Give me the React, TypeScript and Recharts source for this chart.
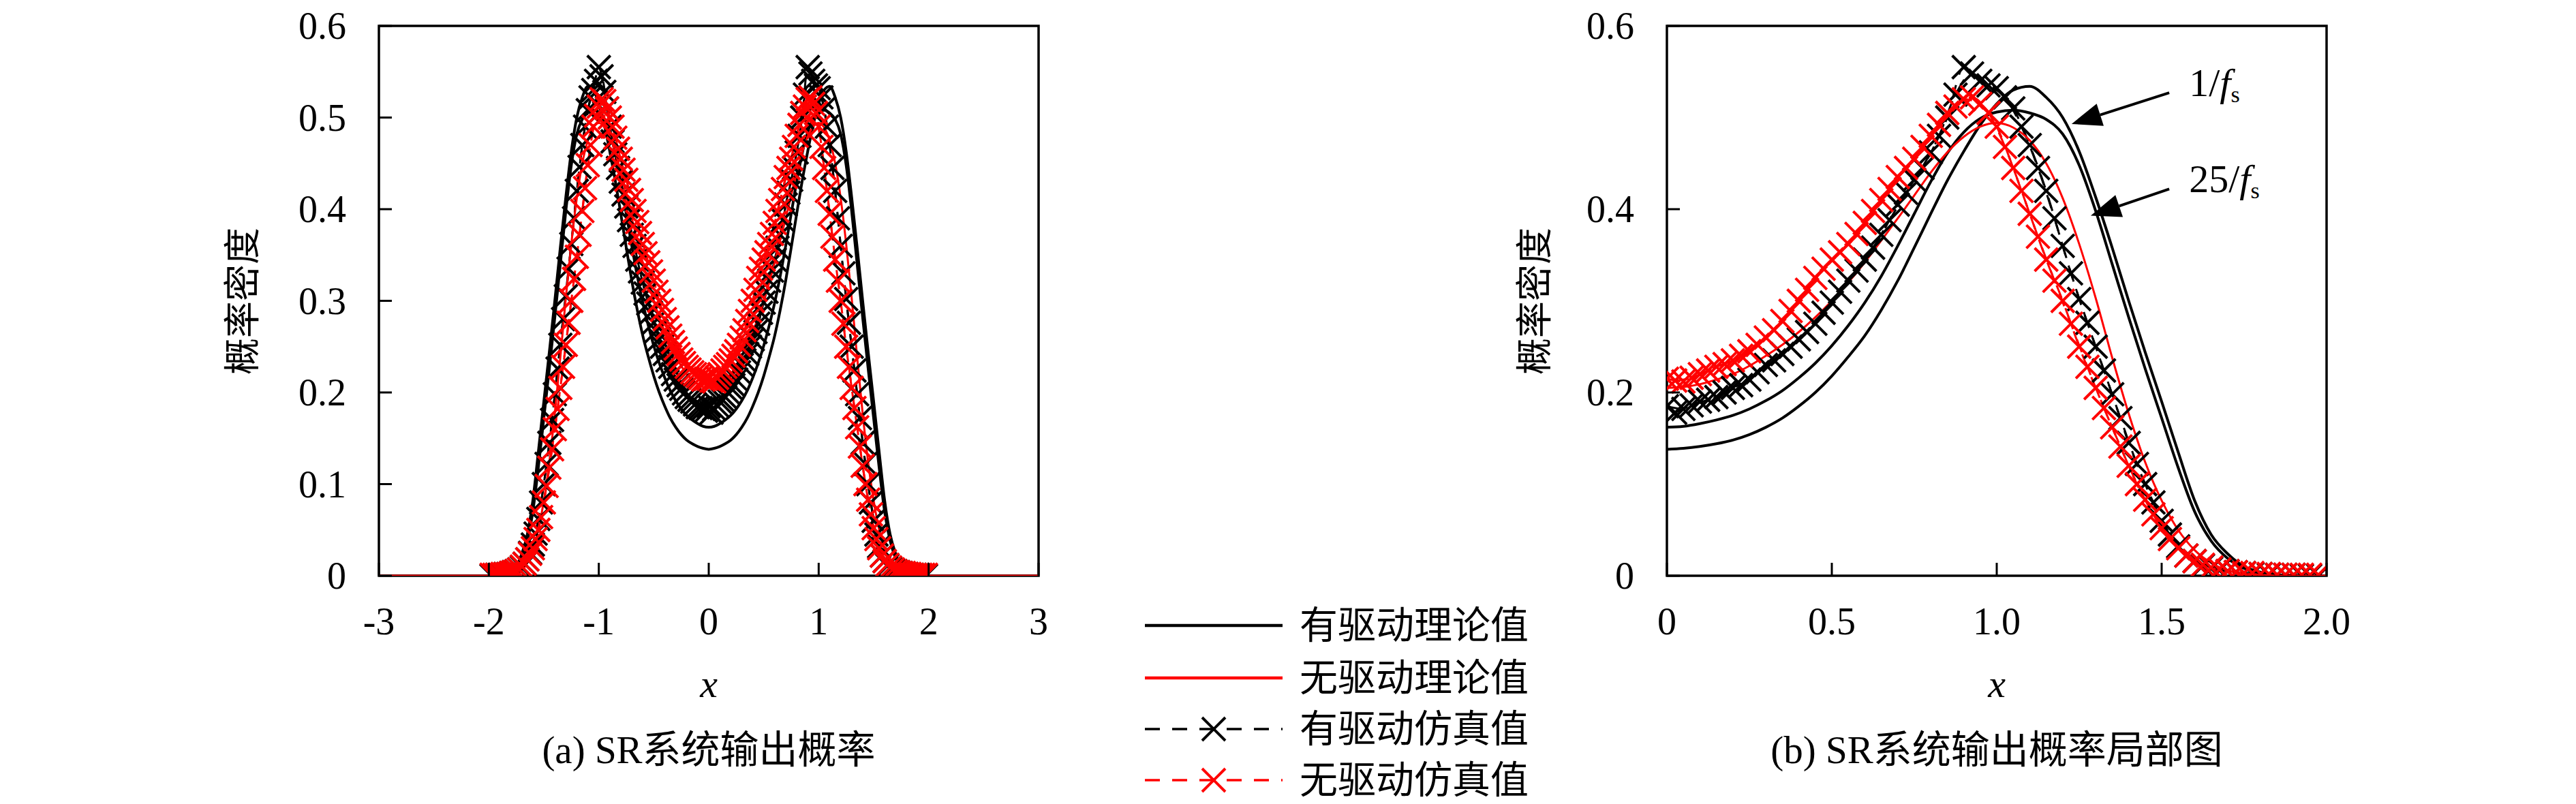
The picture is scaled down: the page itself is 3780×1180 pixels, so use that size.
import React from 'react'
import { LineChart, Line, XAxis, YAxis, ReferenceArea, ReferenceLine } from 'recharts'

const SERIF = '"Liberation Serif", "Times New Roman", serif'
const MIXED = '"Liberation Serif", "Noto Sans CJK SC", serif'

// x grid of the theoretical density curves
const theoryX = [
  -3, -2, -1.95, -1.9, -1.85, -1.8, -1.75, -1.7, -1.65, -1.6, -1.55, -1.5, -1.45, -1.4, -1.35, -1.3,
  -1.25, -1.2, -1.15, -1.1, -1.05, -1, -0.95, -0.9, -0.85, -0.8, -0.75, -0.7, -0.65, -0.6, -0.55,
  -0.5, -0.45, -0.4, -0.35, -0.3, -0.25, -0.2, -0.15, -0.1, -0.05, 0, 0.05, 0.1, 0.15, 0.2, 0.25,
  0.3, 0.35, 0.4, 0.45, 0.5, 0.55, 0.6, 0.65, 0.7, 0.75, 0.8, 0.85, 0.9, 0.95, 1, 1.05, 1.1, 1.15,
  1.2, 1.25, 1.3, 1.35, 1.4, 1.45, 1.5, 1.55, 1.6, 1.65, 1.7, 1.75, 1.8, 1.85, 1.9, 1.95, 2, 3,
]

// driven, sampling 1/fs
const driven1 = [
  0,
  0, 0, 0, 0.001, 0.004, 0.010, 0.024, 0.045, 0.082, 0.135,
  0.190, 0.244, 0.300, 0.358, 0.413, 0.463, 0.500, 0.522, 0.534, 0.530,
  0.515, 0.492, 0.463, 0.431, 0.395, 0.358, 0.322, 0.290, 0.262, 0.239,
  0.218, 0.200, 0.185, 0.172, 0.162, 0.154, 0.148, 0.144, 0.141, 0.139,
  0.138, 0.139, 0.141, 0.144, 0.148, 0.154, 0.162, 0.172, 0.185, 0.200,
  0.218, 0.239, 0.262, 0.290, 0.322, 0.358, 0.395, 0.431, 0.463, 0.492,
  0.515, 0.530, 0.534, 0.522, 0.500, 0.463, 0.413, 0.358, 0.300, 0.244,
  0.190, 0.135, 0.082, 0.045, 0.024, 0.010, 0.004, 0.001, 0, 0, 0,
  0,
]

// driven, sampling 25/fs
const driven25 = [
  0,
  0, 0, 0, 0.001, 0.003, 0.008, 0.019, 0.038, 0.070, 0.118,
  0.172, 0.226, 0.282, 0.340, 0.398, 0.448, 0.482, 0.498, 0.505, 0.508,
  0.506, 0.499, 0.484, 0.461, 0.430, 0.395, 0.360, 0.327, 0.298, 0.273,
  0.251, 0.232, 0.216, 0.202, 0.191, 0.182, 0.175, 0.170, 0.166, 0.163,
  0.162, 0.163, 0.166, 0.170, 0.175, 0.182, 0.191, 0.202, 0.216, 0.232,
  0.251, 0.273, 0.298, 0.327, 0.360, 0.395, 0.430, 0.461, 0.484, 0.499,
  0.506, 0.508, 0.505, 0.498, 0.482, 0.448, 0.398, 0.340, 0.282, 0.226,
  0.172, 0.118, 0.070, 0.038, 0.019, 0.008, 0.003, 0.001, 0, 0, 0,
  0,
]

const undriven = [
  0,
  0, 0, 0, 0, 0.001, 0.002, 0.006, 0.014, 0.028, 0.050,
  0.082, 0.124, 0.177, 0.238, 0.303, 0.362, 0.412, 0.450, 0.475, 0.489,
  0.494, 0.490, 0.479, 0.462, 0.440, 0.415, 0.390, 0.366, 0.342, 0.320,
  0.300, 0.282, 0.266, 0.252, 0.240, 0.229, 0.220, 0.214, 0.209, 0.206,
  0.205, 0.206, 0.209, 0.214, 0.220, 0.229, 0.240, 0.252, 0.266, 0.282,
  0.300, 0.320, 0.342, 0.366, 0.390, 0.415, 0.440, 0.462, 0.479, 0.490,
  0.494, 0.489, 0.475, 0.450, 0.412, 0.362, 0.303, 0.238, 0.177, 0.124,
  0.082, 0.050, 0.028, 0.014, 0.006, 0.002, 0.001, 0, 0, 0, 0,
  0,
]

// histogram bins of the first simulation run
const simX = [
  -1.95, -1.9, -1.85, -1.8, -1.75, -1.7, -1.65, -1.6, -1.55, -1.5, -1.45, -1.4, -1.35, -1.3, -1.25,
  -1.2, -1.15, -1.1, -1.05, -1, -0.95, -0.9, -0.85, -0.8, -0.75, -0.7, -0.65, -0.6, -0.55, -0.5,
  -0.45, -0.4, -0.35, -0.3, -0.25, -0.2, -0.15, -0.1, -0.05, 0, 0.05, 0.1, 0.15, 0.2, 0.25, 0.3,
  0.35, 0.4, 0.45, 0.5, 0.55, 0.6, 0.65, 0.7, 0.75, 0.8, 0.85, 0.9, 0.95, 1, 1.05, 1.1, 1.15, 1.2,
  1.25, 1.3, 1.35, 1.4, 1.45, 1.5, 1.55, 1.6, 1.65, 1.7, 1.75, 1.8, 1.85, 1.9, 1.95,
]

const drivenSim = [
  0, 0.001, 0.002, 0.003, 0.005, 0.009, 0.018, 0.034, 0.062, 0.1,
  0.145, 0.198, 0.252, 0.305, 0.362, 0.42, 0.47, 0.508, 0.53, 0.555,
  0.528, 0.49, 0.46, 0.43, 0.403, 0.372, 0.345, 0.32, 0.297, 0.276,
  0.258, 0.242, 0.228, 0.214, 0.204, 0.195, 0.19, 0.184, 0.182,
  0.185, 0.182, 0.19, 0.195, 0.205, 0.214, 0.23, 0.242, 0.258, 0.275,
  0.298, 0.322, 0.345, 0.372, 0.405, 0.432, 0.462, 0.5, 0.555, 0.54,
  0.532, 0.51, 0.47, 0.42, 0.36, 0.302, 0.25, 0.198, 0.145, 0.1,
  0.06, 0.032, 0.016, 0.008, 0.005, 0.003, 0.002, 0.001, 0.001, 0,
]

const undrivenSim = [
  0.001, 0.001, 0.002, 0.003, 0.005, 0.01, 0.018, 0.03, 0.05, 0.08,
  0.118, 0.16, 0.205, 0.252, 0.3, 0.348, 0.398, 0.448, 0.49, 0.512,
  0.518, 0.5, 0.478, 0.455, 0.432, 0.41, 0.386, 0.362, 0.342, 0.322,
  0.3, 0.28, 0.262, 0.248, 0.236, 0.228, 0.222, 0.218, 0.214,
  0.215, 0.212, 0.22, 0.228, 0.235, 0.245, 0.26, 0.278, 0.3, 0.325,
  0.345, 0.362, 0.385, 0.41, 0.435, 0.455, 0.48, 0.505, 0.52, 0.515,
  0.49, 0.445, 0.395, 0.345, 0.3, 0.25, 0.205, 0.162, 0.12, 0.083,
  0.052, 0.03, 0.016, 0.009, 0.005, 0.003, 0.002, 0.001, 0.001, 0.001,
]

// bins of the second simulation run (shifted half a bin)
const simX2 = [
  -1.975, -1.925, -1.875, -1.825, -1.775, -1.725, -1.675, -1.625, -1.575, -1.525,
  -1.475, -1.425, -1.375, -1.325, -1.275, -1.225, -1.175, -1.125, -1.075, -1.025,
  -0.975, -0.925, -0.875, -0.825, -0.775, -0.725, -0.675, -0.625, -0.575, -0.525,
  -0.475, -0.425, -0.375, -0.325, -0.275, -0.225, -0.175, -0.125, -0.075, -0.025,
  0.025, 0.075, 0.125, 0.175, 0.225, 0.275, 0.325, 0.375, 0.425, 0.475,
  0.525, 0.575, 0.625, 0.675, 0.725, 0.775, 0.825, 0.875, 0.925, 0.975,
  1.025, 1.075, 1.125, 1.175, 1.225, 1.275, 1.325, 1.375, 1.425, 1.475,
  1.525, 1.575, 1.625, 1.675, 1.725, 1.775, 1.825, 1.875, 1.925, 1.975,
]

const drivenSim2 = [
  0, 0.001, 0.001, 0.002, 0.004, 0.007, 0.013, 0.025, 0.046, 0.08,
  0.122, 0.17, 0.226, 0.28, 0.335, 0.39, 0.446, 0.49, 0.522, 0.54,
  0.545, 0.51, 0.474, 0.445, 0.416, 0.388, 0.36, 0.332, 0.308, 0.287,
  0.267, 0.25, 0.235, 0.22, 0.208, 0.199, 0.192, 0.187, 0.183, 0.18,
  0.178, 0.186, 0.192, 0.2, 0.208, 0.222, 0.235, 0.25, 0.266, 0.287,
  0.31, 0.333, 0.358, 0.388, 0.418, 0.445, 0.48, 0.525, 0.548, 0.535,
  0.522, 0.49, 0.445, 0.39, 0.33, 0.276, 0.224, 0.172, 0.122, 0.08,
  0.045, 0.022, 0.011, 0.006, 0.004, 0.002, 0.001, 0.001, 0, 0,
]

const undrivenSim2 = [
  0.001, 0.001, 0.002, 0.002, 0.004, 0.007, 0.013, 0.024, 0.04, 0.064,
  0.098, 0.138, 0.182, 0.228, 0.276, 0.324, 0.372, 0.423, 0.47, 0.502,
  0.52, 0.51, 0.49, 0.466, 0.443, 0.421, 0.398, 0.374, 0.352, 0.332,
  0.31, 0.29, 0.271, 0.255, 0.242, 0.232, 0.225, 0.22, 0.216, 0.215,
  0.213, 0.216, 0.224, 0.231, 0.24, 0.252, 0.268, 0.289, 0.312, 0.335,
  0.353, 0.373, 0.398, 0.422, 0.445, 0.468, 0.492, 0.512, 0.522, 0.505,
  0.468, 0.42, 0.37, 0.322, 0.275, 0.228, 0.183, 0.141, 0.1, 0.067,
  0.04, 0.022, 0.012, 0.007, 0.004, 0.003, 0.002, 0.001, 0.001, 0.001,
]

const leftXTicks = [-3, -2, -1, 0, 1, 2, 3]
const leftYTicks = [0, 0.1, 0.2, 0.3, 0.4, 0.5, 0.6]
const rightXTicks = [0, 0.5, 1, 1.5, 2]
const rightYTicks = [0, 0.2, 0.4, 0.6]

const legendLabels = ['有驱动理论值', '无驱动理论值', '有驱动仿真值', '无驱动仿真值']
const captions = ['(a) SR系统输出概率', '(b) SR系统输出概率局部图']
const yLabel = '概率密度'

const RED = '#ff0000'

function points(xs: number[], ys: number[], lo: number, hi: number) {
  return xs.map((x, i) => ({ x, y: ys[i] })).filter(p => p.x >= lo && p.x <= hi)
}

const intFmt = (v: number) => String(v)
const decFmt = (v: number) => (v === 0 ? '0' : v.toFixed(1))

function XMark({ cx, cy, color }: { cx: number; cy: number; color: string }) {
  const s = 17
  return (
    <path
      d={`M${cx - s},${cy - s}L${cx + s},${cy + s}M${cx - s},${cy + s}L${cx + s},${cy - s}`}
      stroke={color}
      strokeWidth={4}
      fill="none"
    />
  )
}

const crossDot = (color: string) => (p: any) => {
  if (p.cx == null || p.cy == null) return <g key={`e-${p.index}`} />
  return <g key={`m-${p.index}`}><XMark cx={p.cx} cy={p.cy} color={color} /></g>
}

const yTick = (fmt: (v: number) => string) => (p: any) => (
  <g>
    <line x1={p.x} y1={p.y} x2={p.x + 19} y2={p.y} stroke="#000" strokeWidth={3} />
    <text x={p.x - 48} y={p.y} textAnchor="end" dominantBaseline="central" fontFamily={SERIF} fontSize={56} fill="#000">
      {fmt(p.payload.value)}
    </text>
  </g>
)

const xTick = (fmt: (v: number) => string) => (p: any) => (
  <g>
    <line x1={p.x} y1={p.y} x2={p.x} y2={p.y - 19} stroke="#000" strokeWidth={3} />
    <text x={p.x} y={p.y + 67} textAnchor="middle" dominantBaseline="central" fontFamily={SERIF} fontSize={56} fill="#000">
      {fmt(p.payload.value)}
    </text>
  </g>
)

const arrowShape = (main: string) => (p: any) => {
  const { x1, y1, x2, y2 } = p
  const dx = x2 - x1
  const dy = y2 - y1
  const len = Math.hypot(dx, dy) || 1
  const ux = dx / len
  const uy = dy / len
  const head = 44
  const half = 17
  const bx = x2 - ux * head
  const by = y2 - uy * head
  const tri = `${x2},${y2} ${bx - uy * half},${by + ux * half} ${bx + uy * half},${by - ux * half}`
  return (
    <g>
      <line x1={x1} y1={y1} x2={bx} y2={by} stroke="#000" strokeWidth={4} />
      <polygon points={tri} fill="#000" />
      <text x={x1 + 29} y={y1 + 5} fontFamily={SERIF} fontSize={58} fill="#000">
        {main}/<tspan fontStyle="italic">f</tspan>
        <tspan fontSize={34} dy={9}>s</tspan>
      </text>
    </g>
  )
}

function simLine(data: { x: number; y: number }[], color: string) {
  return (
    <Line data={data} dataKey="y" type="monotone" stroke={color} strokeWidth={3} strokeDasharray="20 16"
      dot={crossDot(color)} activeDot={false} isAnimationActive={false} />
  )
}

function Panel({ lo, hi, xTicks, yTicks, xFmt, yFmt, yAxisWidth, width, rightMargin, annotate }: any) {
  const t1 = points(theoryX, driven1, lo, hi)
  const t25 = points(theoryX, driven25, lo, hi)
  const tFree = points(theoryX, undriven, lo, hi)
  return (
    <LineChart width={width} height={1000} margin={{ top: 38, right: rightMargin, bottom: 0, left: 0 }}>
      <XAxis
        type="number"
        dataKey="x"
        domain={[lo, hi]}
        ticks={xTicks}
        interval={0}
        allowDataOverflow
        height={155}
        axisLine={false}
        tickLine={false}
        tickSize={0}
        tickMargin={0}
        tick={xTick(xFmt)}
      />
      <YAxis
        type="number"
        domain={[0, 0.6]}
        ticks={yTicks}
        interval={0}
        allowDataOverflow
        width={yAxisWidth}
        axisLine={false}
        tickLine={false}
        tickSize={0}
        tickMargin={0}
        tick={yTick(yFmt)}
      />
      <ReferenceArea x1={lo} x2={hi} y1={0} y2={0.6} fill="none" stroke="#000" strokeWidth={3.5} ifOverflow="visible" />
      {simLine(points(simX, drivenSim, lo, hi), '#000')}
      {simLine(points(simX2, drivenSim2, lo, hi), '#000')}
      {simLine(points(simX, undrivenSim, lo, hi), RED)}
      {simLine(points(simX2, undrivenSim2, lo, hi), RED)}
      <Line data={t1} dataKey="y" type="monotone" stroke="#000" strokeWidth={4} dot={false} activeDot={false} isAnimationActive={false} />
      <Line data={t25} dataKey="y" type="monotone" stroke="#000" strokeWidth={4} dot={false} activeDot={false} isAnimationActive={false} />
      <Line data={tFree} dataKey="y" type="monotone" stroke={RED} strokeWidth={3} dot={false} activeDot={false} isAnimationActive={false} />
      {annotate && (
        <ReferenceLine segment={[{ x: 1.523, y: 0.527 }, { x: 1.227, y: 0.493 }]} shape={arrowShape('1')} ifOverflow="visible" />
      )}
      {annotate && (
        <ReferenceLine segment={[{ x: 1.523, y: 0.422 }, { x: 1.285, y: 0.393 }]} shape={arrowShape('25')} ifOverflow="visible" />
      )}
    </LineChart>
  )
}

const legendRows = [918, 995, 1070, 1145]

export default function App() {
  return (
    <div style={{ position: 'absolute', left: 0, top: 0, width: 3780, height: 1180, background: '#ffffff', overflow: 'hidden' }}>
      <div style={{ position: 'absolute', left: 0, top: 0 }}>
        <Panel lo={-3} hi={3} xTicks={leftXTicks} yTicks={leftYTicks} xFmt={intFmt} yFmt={decFmt}
          yAxisWidth={556} width={1620} rightMargin={96} annotate={false} />
      </div>
      <div style={{ position: 'absolute', left: 1900, top: 0 }}>
        <Panel lo={0} hi={2} xTicks={rightXTicks} yTicks={rightYTicks} xFmt={decFmt} yFmt={decFmt}
          yAxisWidth={546} width={1600} rightMargin={86} annotate />
      </div>
      <svg width={3780} height={1180} style={{ position: 'absolute', left: 0, top: 0, pointerEvents: 'none' }}>
        {[357, 2253].map(cx => (
          <text key={cx} x={cx} y={442} transform={`rotate(-90 ${cx} 442)`} textAnchor="middle" dominantBaseline="central"
            fontFamily={MIXED} fontSize={54} fill="#000">{yLabel}</text>
        ))}
        {[1040, 2930].map(cx => (
          <text key={cx} x={cx} y={1003} textAnchor="middle" dominantBaseline="central" fontFamily={SERIF}
            fontStyle="italic" fontSize={58} fill="#000">x</text>
        ))}
        {captions.map((c, i) => (
          <text key={c} x={i === 0 ? 1040 : 2930} y={1100} textAnchor="middle" dominantBaseline="central"
            fontFamily={MIXED} fontSize={57} fill="#000">{c}</text>
        ))}
        {legendLabels.map((label, i) => {
          const y = legendRows[i]
          const color = i % 2 === 0 ? '#000' : RED
          const sim = i >= 2
          return (
            <g key={label}>
              <line x1={1680} x2={1882} y1={y} y2={y} stroke={color} strokeWidth={sim ? 3.5 : 4.5}
                strokeDasharray={sim ? '22 18' : undefined} />
              {sim && <XMark cx={1781} cy={y} color={color} />}
              <text x={1907} y={y} dominantBaseline="central" fontFamily={MIXED} fontSize={56} fill="#000">{label}</text>
            </g>
          )
        })}
      </svg>
    </div>
  )
}
